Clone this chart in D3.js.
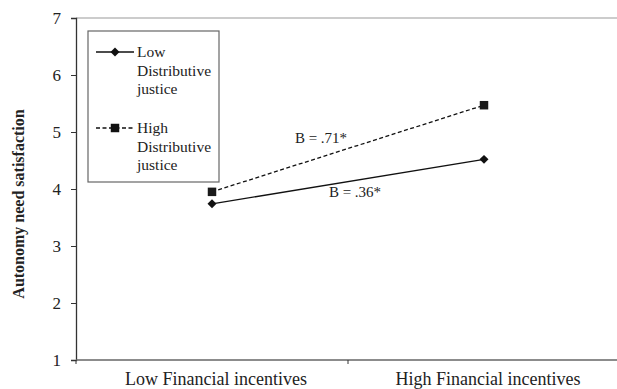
<!DOCTYPE html>
<html>
<head>
<meta charset="utf-8">
<script src="https://cdn.jsdelivr.net/npm/d3@7"></script>
<style>
  html, body { margin: 0; padding: 0; background: #fff; }
  svg { display: block; font-family: "Liberation Serif", "Times New Roman", serif; }
</style>
</head>
<body>
<svg id="chart" width="617" height="389"></svg>
<script>
// Interaction plot: autonomy need satisfaction by financial incentives and distributive justice
const categories = ["Low Financial incentives", "High Financial incentives"];
const lowJustice = [3.74, 4.52];
const highJustice = [3.95, 5.47];
const yTicks = [1, 2, 3, 4, 5, 6, 7];
const seriesNames = ["Low Distributive justice", "High Distributive justice"];
const slopeLabels = ["B = .36*", "B = .71*"];

const svg = d3.select("#chart");
const margin = { left: 76, top: 18, right: -3, bottom: 29 };
const W = 617, H = 389;

const x = d3.scaleBand()
  .domain(categories)
  .range([margin.left, W - margin.right]);
const y = d3.scaleLinear()
  .domain([1, 7])
  .range([H - margin.bottom, margin.top]);

const cx = d => x(d) + x.bandwidth() / 2;

// square-on-its-corner diamond marker
const diamondShape = {
  draw(ctx, size) {
    const r = Math.sqrt(size / 2);
    ctx.moveTo(0, -r); ctx.lineTo(r, 0); ctx.lineTo(0, r); ctx.lineTo(-r, 0); ctx.closePath();
  }
};

// top frame line
svg.append("line")
  .attr("x1", margin.left).attr("x2", W)
  .attr("y1", y(7)).attr("y2", y(7))
  .attr("stroke", "#999").attr("stroke-width", 1.2);

// y axis
const yAxis = svg.append("g")
  .attr("transform", `translate(${margin.left},0)`)
  .call(d3.axisLeft(y).tickValues(yTicks).tickSize(5).tickPadding(10).tickFormat(d3.format("d")));
yAxis.select(".domain").attr("stroke", "#333").attr("stroke-width", 1.3);
yAxis.selectAll(".tick line").attr("stroke", "#333");
yAxis.selectAll(".tick text")
  .attr("font-size", 17).attr("fill", "#222")
  .attr("font-family", "Liberation Serif, serif");

// x axis with ticks at band boundaries
const xBase = y(1);
svg.append("line")
  .attr("x1", margin.left).attr("x2", W)
  .attr("y1", xBase).attr("y2", xBase)
  .attr("stroke", "#666").attr("stroke-width", 1.6);
const bounds = [x(categories[0]), x(categories[1])];
svg.selectAll(".xtick").data(bounds).join("line")
  .attr("x1", d => d).attr("x2", d => d)
  .attr("y1", xBase).attr("y2", xBase + 4)
  .attr("stroke", "#333").attr("stroke-width", 1);
svg.selectAll(".xlab").data(categories).join("text")
  .attr("x", d => cx(d) + 4).attr("y", xBase + 25)
  .attr("text-anchor", "middle")
  .attr("font-size", 18).attr("fill", "#222")
  .text(d => d);

// y axis title
svg.append("text")
  .attr("transform", `translate(24,${204}) rotate(-90)`)
  .attr("text-anchor", "middle")
  .attr("font-size", 16).attr("font-weight", "bold").attr("fill", "#222")
  .text("Autonomy need satisfaction");

// lines
const line = d3.line().x((d, i) => cx(categories[i])).y(d => y(d));
svg.append("path").datum(lowJustice)
  .attr("d", line).attr("fill", "none")
  .attr("stroke", "#111").attr("stroke-width", 1.4);
svg.append("path").datum(highJustice)
  .attr("d", line).attr("fill", "none")
  .attr("stroke", "#111").attr("stroke-width", 1.3)
  .attr("stroke-dasharray", "4,2.5");

const diamond = d3.symbol().type(diamondShape).size(40);
const square = d3.symbol().type(d3.symbolSquare).size(72);

svg.selectAll(".lowpt").data(lowJustice).join("path")
  .attr("transform", (d, i) => `translate(${cx(categories[i])},${y(d)})`)
  .attr("d", diamond).attr("fill", "#111");
svg.selectAll(".highpt").data(highJustice).join("path")
  .attr("transform", (d, i) => `translate(${cx(categories[i])},${y(d)})`)
  .attr("d", square).attr("fill", "#1a1a1a");

// slope annotations
svg.append("text").attr("x", 355).attr("y", 197)
  .attr("text-anchor", "middle").attr("font-size", 15).attr("fill", "#222")
  .text(slopeLabels[0]);
svg.append("text").attr("x", 321).attr("y", 143)
  .attr("text-anchor", "middle").attr("font-size", 15).attr("fill", "#222")
  .text(slopeLabels[1]);

// legend
const lg = svg.append("g");
lg.append("rect")
  .attr("x", 88).attr("y", 31).attr("width", 131).attr("height", 151)
  .attr("fill", "#fff").attr("stroke", "#666").attr("stroke-width", 1.2);

const legendRows = [
  { name: seriesNames[0], y: 52, dash: null, sym: diamond },
  { name: seriesNames[1], y: 128, dash: "4,2.5", sym: square }
];
legendRows.forEach(r => {
  lg.append("line")
    .attr("x1", 96).attr("x2", 134).attr("y1", r.y).attr("y2", r.y)
    .attr("stroke", "#111").attr("stroke-width", 1.3)
    .attr("stroke-dasharray", r.dash);
  lg.append("path")
    .attr("transform", `translate(115,${r.y})`)
    .attr("d", r.sym).attr("fill", "#111");
  const words = r.name.split(" ");
  const t = lg.append("text").attr("font-size", 15.5).attr("fill", "#222");
  words.forEach((w, i) => {
    t.append("tspan").attr("x", 137).attr("y", r.y + 5 + i * 18.5).text(w);
  });
});
</script>
</body>
</html>
